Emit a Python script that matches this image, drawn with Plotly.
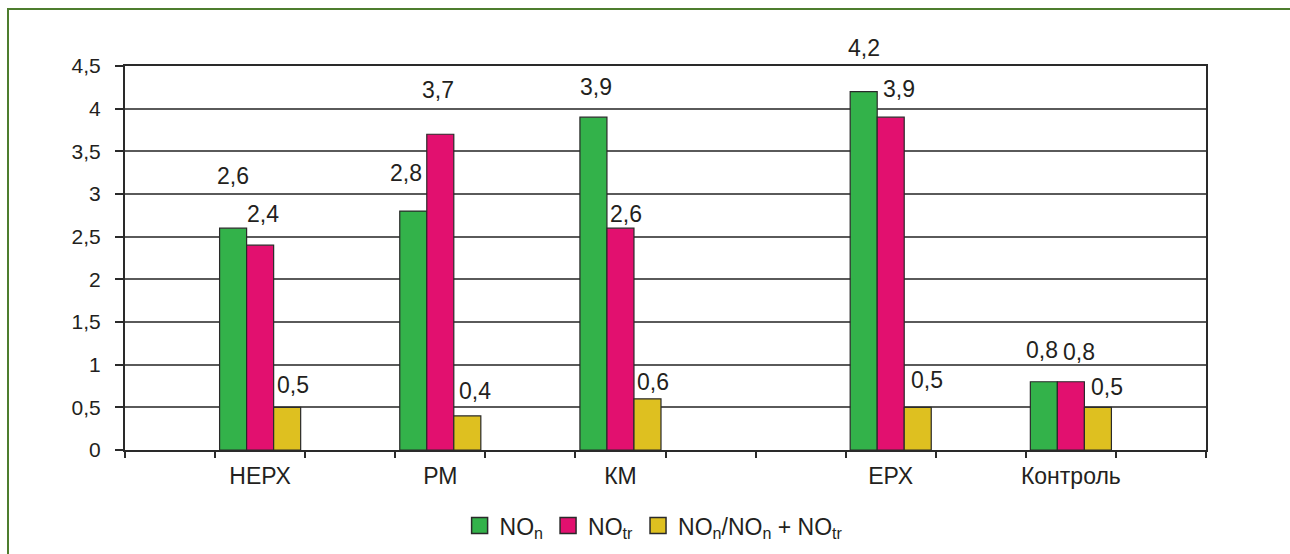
import plotly.graph_objects as go

# Groups and their slots on a 12-slot category axis (some slots stay empty)
categories = ["НЕРХ", "РМ", "КМ", "ЕРХ", "Контроль"]
slot_of_category = [1, 3, 5, 8, 10]
n_slots = 12

# Series values
no_n = [2.6, 2.8, 3.9, 4.2, 0.8]
no_tr = [2.4, 3.7, 2.6, 3.9, 0.8]
no_ratio = [0.5, 0.4, 0.6, 0.5, 0.5]

series_names = ["NO<sub>n</sub>", "NO<sub>tr</sub>", "NO<sub>n</sub>/NO<sub>n</sub> + NO<sub>tr</sub>"]
series_values = [no_n, no_tr, no_ratio]
series_colors = ["#33B24A", "#E2106F", "#DEC020"]

# Manual nudges (pixels) of the value labels: (dx, dy above bar top)
label_nudges = [
    [(0, 52), (-7, 38), (3, 30), (0, 44), (-2, 32)],
    [(3, 31), (-2, 44), (6, 14), (8, 28), (8, 30)],
    [(6, 22), (8, 25), (6, 17), (9, 27), (9, 20)],
]

FONT = "Liberation Sans, Arial, sans-serif"
TEXT = "#231F20"
EDGE = "#2A2A2A"

fig = go.Figure()

bar_w = 0.3
for k, (vals, color) in enumerate(zip(series_values, series_colors)):
    fig.add_trace(go.Bar(
        x=slot_of_category, y=vals,
        width=bar_w, offset=(k - 1) * bar_w - bar_w / 2,
        marker=dict(color=color, line=dict(color=EDGE, width=1.2)),
        showlegend=False, hoverinfo="skip",
    ))
    # legend entry with a larger square swatch
    fig.add_trace(go.Scatter(
        x=[None], y=[None], mode="markers", name=series_names[k],
        marker=dict(symbol="square", size=16, color=color,
                    line=dict(color=EDGE, width=1.5)),
    ))

# value labels
for k, vals in enumerate(series_values):
    for j, v in enumerate(vals):
        dx, dy = label_nudges[k][j]
        fig.add_annotation(
            x=slot_of_category[j] + (k - 1) * bar_w, y=v, xref="x", yref="y",
            text=f"{v:.1f}".replace(".", ","), showarrow=False,
            xanchor="center", yanchor="middle", xshift=dx, yshift=dy,
            font=dict(family=FONT, size=23, color=TEXT),
        )

L, R, T, B = 125, 84, 66, 104
W, H = 1290, 554
pw, ph = W - L - R, H - T - B

# outer green frame (runs off the right and bottom edges)
fig.add_shape(
    type="rect", xref="paper", yref="paper",
    x0=(8 - L) / pw, x1=(W + 10 - L) / pw,
    y0=-(B + 10) / ph, y1=1 + (T - 9) / ph,
    line=dict(color="#4E7D2E", width=2), fillcolor="rgba(0,0,0,0)", layer="below",
)

fig.update_layout(
    width=W, height=H,
    margin=dict(l=L, r=R, t=T, b=B, pad=0, autoexpand=False),
    paper_bgcolor="white", plot_bgcolor="white",
    barmode="overlay",
    separators=", ",
    font=dict(family=FONT, color=TEXT),
    showlegend=True,
    legend=dict(
        orientation="h", x=0.489, xanchor="center", y=-0.141, yanchor="top",
        font=dict(family=FONT, size=23, color=TEXT),
        bgcolor="rgba(0,0,0,0)", itemwidth=30,
    ),
    xaxis=dict(
        range=[-0.5, n_slots - 0.5],
        tickmode="array", tickvals=slot_of_category, ticktext=categories,
        ticks="", showgrid=False, zeroline=False,
        showline=True, linecolor=EDGE, linewidth=2, mirror=True,
        tickfont=dict(family=FONT, size=23, color=TEXT),
        ticklabelstandoff=4,
        minor=dict(tickmode="array", tickvals=[i - 0.5 for i in range(n_slots + 1)],
                   ticks="outside", ticklen=6, tickcolor=EDGE, tickwidth=1.5,
                   showgrid=False),
    ),
    yaxis=dict(
        range=[0, 4.5], tickmode="linear", tick0=0, dtick=0.5,
        ticks="outside", ticklen=8, tickcolor=EDGE, tickwidth=1.5,
        showgrid=True, gridcolor="#5A5A5A", gridwidth=1.5,
        zeroline=False, showline=True, linecolor=EDGE, linewidth=2, mirror=True,
        tickfont=dict(family=FONT, size=21, color=TEXT),
        ticklabelstandoff=10,
    ),
)

fig.write_html("out.html")
